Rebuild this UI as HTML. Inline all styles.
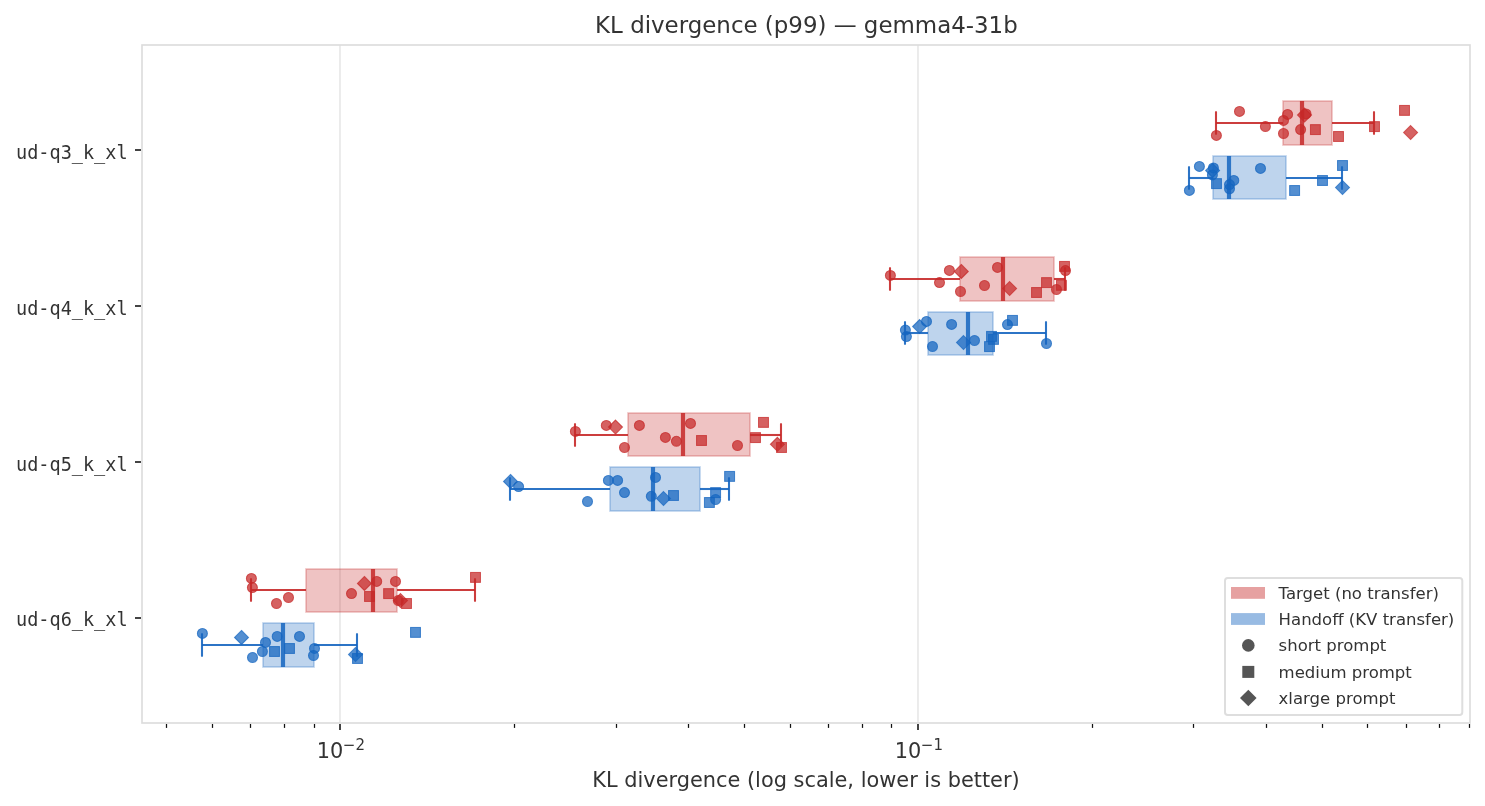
<!DOCTYPE html>
<html lang="en"><head><meta charset="utf-8"><title>KL divergence (p99) — gemma4-31b</title>
<style>html,body{margin:0;padding:0;background:#fff;}body{width:1485px;height:806px;overflow:hidden;}svg{display:block;}text{font-family:"DejaVu Sans","Liberation Sans",sans-serif;fill:#333;}.mono{font-family:"DejaVu Sans Mono","Liberation Mono",monospace;}</style></head><body>
<svg width="1485" height="806" viewBox="0 0 1485 806">
<rect width="1485" height="806" fill="#fff"/>
<g stroke="#e8e8e8" stroke-width="1.67">
<line x1="340" y1="45.0" x2="340" y2="723.0"/>
<line x1="918" y1="45.0" x2="918" y2="723.0"/>
</g>
<g id="pts-q3">
<rect x="1283" y="101" width="49" height="44" fill="#c62828" fill-opacity="0.28" stroke="#c62828" stroke-opacity="0.28" stroke-width="1.67"/>
<g fill="#c62828" fill-opacity="0.73" stroke="#c62828" stroke-opacity="0.73" stroke-width="1.04" stroke-linejoin="miter">
<circle cx="1239.5" cy="111.4" r="5.0"/>
<circle cx="1216.4" cy="135.4" r="5.0"/>
<circle cx="1265.4" cy="126.5" r="5.0"/>
<circle cx="1287.6" cy="114.4" r="5.0"/>
<circle cx="1283.5" cy="120.4" r="5.0"/>
<circle cx="1283.5" cy="133.5" r="5.0"/>
<circle cx="1300.6" cy="129.6" r="5.0"/>
<circle cx="1306.0" cy="113.9" r="5.0"/>
<rect x="1310.45" y="124.65" width="9.9" height="9.9"/>
<rect x="1333.55" y="131.55" width="9.9" height="9.9"/>
<rect x="1369.55" y="121.65" width="9.9" height="9.9"/>
<rect x="1399.55" y="105.45" width="9.9" height="9.9"/>
<path d="M1304.5 108.10L1311.50 115.1L1304.5 122.10L1297.50 115.1Z"/>
<path d="M1410.6 125.50L1417.60 132.5L1410.6 139.50L1403.60 132.5Z"/>
</g>
<rect x="1213" y="156" width="73" height="43" fill="#1565c0" fill-opacity="0.28" stroke="#1565c0" stroke-opacity="0.28" stroke-width="1.67"/>
<g fill="#1565c0" fill-opacity="0.73" stroke="#1565c0" stroke-opacity="0.73" stroke-width="1.04" stroke-linejoin="miter">
<circle cx="1199.4" cy="166.4" r="5.0"/>
<circle cx="1189.4" cy="190.4" r="5.0"/>
<circle cx="1260.5" cy="168.4" r="5.0"/>
<circle cx="1213.4" cy="167.9" r="5.0"/>
<circle cx="1212.4" cy="174.9" r="5.0"/>
<circle cx="1233.8" cy="180.4" r="5.0"/>
<circle cx="1229.5" cy="184.6" r="5.0"/>
<circle cx="1229.5" cy="188.8" r="5.0"/>
<rect x="1211.55" y="178.65" width="9.9" height="9.9"/>
<rect x="1289.65" y="185.55" width="9.9" height="9.9"/>
<rect x="1317.55" y="175.55" width="9.9" height="9.9"/>
<rect x="1337.55" y="160.55" width="9.9" height="9.9"/>
<path d="M1212.6 163.40L1219.60 170.4L1212.6 177.40L1205.60 170.4Z"/>
<path d="M1342.5 180.50L1349.50 187.5L1342.5 194.50L1335.50 187.5Z"/>
</g>
</g>
<g id="pts-q4">
<rect x="960" y="257" width="94" height="44" fill="#c62828" fill-opacity="0.28" stroke="#c62828" stroke-opacity="0.28" stroke-width="1.67"/>
<g fill="#c62828" fill-opacity="0.73" stroke="#c62828" stroke-opacity="0.73" stroke-width="1.04" stroke-linejoin="miter">
<circle cx="890.4" cy="275.4" r="5.0"/>
<circle cx="949.4" cy="270.4" r="5.0"/>
<circle cx="939.5" cy="282.6" r="5.0"/>
<circle cx="960.5" cy="291.5" r="5.0"/>
<circle cx="984.5" cy="285.5" r="5.0"/>
<circle cx="997.5" cy="267.4" r="5.0"/>
<circle cx="1065.5" cy="270.6" r="5.0"/>
<circle cx="1056.5" cy="289.5" r="5.0"/>
<rect x="1031.55" y="287.55" width="9.9" height="9.9"/>
<rect x="1041.55" y="277.65" width="9.9" height="9.9"/>
<rect x="1056.45" y="280.35" width="9.9" height="9.9"/>
<rect x="1059.55" y="261.45" width="9.9" height="9.9"/>
<path d="M961.3 264.40L968.30 271.4L961.3 278.40L954.30 271.4Z"/>
<path d="M1009.6 281.50L1016.60 288.5L1009.6 295.50L1002.60 288.5Z"/>
</g>
<rect x="928" y="312" width="65" height="43" fill="#1565c0" fill-opacity="0.28" stroke="#1565c0" stroke-opacity="0.28" stroke-width="1.67"/>
<g fill="#1565c0" fill-opacity="0.73" stroke="#1565c0" stroke-opacity="0.73" stroke-width="1.04" stroke-linejoin="miter">
<circle cx="905.4" cy="330.1" r="5.0"/>
<circle cx="906.4" cy="336.6" r="5.0"/>
<circle cx="926.5" cy="321.4" r="5.0"/>
<circle cx="951.6" cy="324.4" r="5.0"/>
<circle cx="932.5" cy="346.5" r="5.0"/>
<circle cx="974.5" cy="340.5" r="5.0"/>
<circle cx="1007.5" cy="324.6" r="5.0"/>
<circle cx="1046.5" cy="343.5" r="5.0"/>
<rect x="986.55" y="331.45" width="9.9" height="9.9"/>
<rect x="988.55" y="334.45" width="9.9" height="9.9"/>
<rect x="984.55" y="341.65" width="9.9" height="9.9"/>
<rect x="1007.55" y="315.45" width="9.9" height="9.9"/>
<path d="M919.6 319.60L926.60 326.6L919.6 333.60L912.60 326.6Z"/>
<path d="M963.5 335.50L970.50 342.5L963.5 349.50L956.50 342.5Z"/>
</g>
</g>
<g id="pts-q5">
<rect x="628" y="413" width="122" height="43" fill="#c62828" fill-opacity="0.28" stroke="#c62828" stroke-opacity="0.28" stroke-width="1.67"/>
<g fill="#c62828" fill-opacity="0.73" stroke="#c62828" stroke-opacity="0.73" stroke-width="1.04" stroke-linejoin="miter">
<circle cx="575.4" cy="431.4" r="5.0"/>
<circle cx="606.3" cy="425.4" r="5.0"/>
<circle cx="639.4" cy="425.4" r="5.0"/>
<circle cx="624.5" cy="447.5" r="5.0"/>
<circle cx="665.4" cy="437.4" r="5.0"/>
<circle cx="676.4" cy="441.3" r="5.0"/>
<circle cx="690.5" cy="423.4" r="5.0"/>
<circle cx="737.5" cy="445.5" r="5.0"/>
<rect x="696.55" y="435.55" width="9.9" height="9.9"/>
<rect x="750.55" y="432.65" width="9.9" height="9.9"/>
<rect x="758.55" y="417.45" width="9.9" height="9.9"/>
<rect x="776.55" y="442.55" width="9.9" height="9.9"/>
<path d="M615.5 420.10L622.50 427.1L615.5 434.10L608.50 427.1Z"/>
<path d="M777.4 437.30L784.40 444.3L777.4 451.30L770.40 444.3Z"/>
</g>
<rect x="610" y="467" width="90" height="44" fill="#1565c0" fill-opacity="0.28" stroke="#1565c0" stroke-opacity="0.28" stroke-width="1.67"/>
<g fill="#1565c0" fill-opacity="0.73" stroke="#1565c0" stroke-opacity="0.73" stroke-width="1.04" stroke-linejoin="miter">
<circle cx="518.6" cy="486.6" r="5.0"/>
<circle cx="608.4" cy="480.4" r="5.0"/>
<circle cx="617.6" cy="480.4" r="5.0"/>
<circle cx="624.5" cy="492.6" r="5.0"/>
<circle cx="587.5" cy="501.5" r="5.0"/>
<circle cx="655.5" cy="477.4" r="5.0"/>
<circle cx="651.3" cy="496.3" r="5.0"/>
<circle cx="715.6" cy="499.5" r="5.0"/>
<rect x="668.55" y="490.55" width="9.9" height="9.9"/>
<rect x="710.65" y="487.65" width="9.9" height="9.9"/>
<rect x="704.45" y="497.55" width="9.9" height="9.9"/>
<rect x="724.65" y="471.45" width="9.9" height="9.9"/>
<path d="M510.5 474.40L517.50 481.4L510.5 488.40L503.50 481.4Z"/>
<path d="M663.5 491.50L670.50 498.5L663.5 505.50L656.50 498.5Z"/>
</g>
</g>
<g id="pts-q6">
<rect x="306" y="569" width="91" height="43" fill="#c62828" fill-opacity="0.28" stroke="#c62828" stroke-opacity="0.28" stroke-width="1.67"/>
<g fill="#c62828" fill-opacity="0.73" stroke="#c62828" stroke-opacity="0.73" stroke-width="1.04" stroke-linejoin="miter">
<circle cx="251.4" cy="578.4" r="5.0"/>
<circle cx="252.4" cy="587.6" r="5.0"/>
<circle cx="276.5" cy="603.5" r="5.0"/>
<circle cx="288.5" cy="597.5" r="5.0"/>
<circle cx="351.5" cy="593.6" r="5.0"/>
<circle cx="376.7" cy="581.4" r="5.0"/>
<circle cx="395.5" cy="581.4" r="5.0"/>
<circle cx="398.3" cy="600.5" r="5.0"/>
<rect x="364.55" y="591.55" width="9.9" height="9.9"/>
<rect x="383.65" y="588.65" width="9.9" height="9.9"/>
<rect x="401.55" y="598.55" width="9.9" height="9.9"/>
<rect x="470.55" y="572.45" width="9.9" height="9.9"/>
<path d="M364.4 576.40L371.40 583.4L364.4 590.40L357.40 583.4Z"/>
<path d="M400.5 593.50L407.50 600.5L400.5 607.50L393.50 600.5Z"/>
</g>
<rect x="263" y="623" width="51" height="44" fill="#1565c0" fill-opacity="0.28" stroke="#1565c0" stroke-opacity="0.28" stroke-width="1.67"/>
<g fill="#1565c0" fill-opacity="0.73" stroke="#1565c0" stroke-opacity="0.73" stroke-width="1.04" stroke-linejoin="miter">
<circle cx="202.4" cy="633.4" r="5.0"/>
<circle cx="265.5" cy="642.4" r="5.0"/>
<circle cx="262.4" cy="651.5" r="5.0"/>
<circle cx="252.5" cy="657.5" r="5.0"/>
<circle cx="277.2" cy="636.4" r="5.0"/>
<circle cx="299.5" cy="636.4" r="5.0"/>
<circle cx="314.5" cy="648.4" r="5.0"/>
<circle cx="313.5" cy="655.5" r="5.0"/>
<rect x="269.55" y="646.55" width="9.9" height="9.9"/>
<rect x="284.55" y="643.55" width="9.9" height="9.9"/>
<rect x="352.55" y="653.55" width="9.9" height="9.9"/>
<rect x="410.55" y="627.45" width="9.9" height="9.9"/>
<path d="M241.5 630.40L248.50 637.4L241.5 644.40L234.50 637.4Z"/>
<path d="M355.5 647.50L362.50 654.5L355.5 661.50L348.50 654.5Z"/>
</g>
</g>
<g id="lines-q3">
<g stroke="#c62828" stroke-opacity="0.9" stroke-width="2.08" fill="none">
<line x1="1216" y1="123" x2="1283" y2="123"/>
<line x1="1332" y1="123" x2="1374" y2="123"/>
<line x1="1216" y1="111.3" x2="1216" y2="134.7"/>
<line x1="1374" y1="111.3" x2="1374" y2="134.7"/>
</g>
<line x1="1302" y1="101" x2="1302" y2="145" stroke="#c62828" stroke-opacity="0.85" stroke-width="4.17"/>
<g stroke="#1565c0" stroke-opacity="0.9" stroke-width="2.08" fill="none">
<line x1="1189" y1="178" x2="1213" y2="178"/>
<line x1="1286" y1="178" x2="1342" y2="178"/>
<line x1="1189" y1="166.3" x2="1189" y2="189.7"/>
<line x1="1342" y1="166.3" x2="1342" y2="189.7"/>
</g>
<line x1="1229" y1="156" x2="1229" y2="199" stroke="#1565c0" stroke-opacity="0.85" stroke-width="4.17"/>
</g>
<g id="lines-q4">
<g stroke="#c62828" stroke-opacity="0.9" stroke-width="2.08" fill="none">
<line x1="890" y1="279" x2="960" y2="279"/>
<line x1="1054" y1="279" x2="1065" y2="279"/>
<line x1="890" y1="267.3" x2="890" y2="290.7"/>
<line x1="1065" y1="267.3" x2="1065" y2="290.7"/>
</g>
<line x1="1003" y1="257" x2="1003" y2="301" stroke="#c62828" stroke-opacity="0.85" stroke-width="4.17"/>
<g stroke="#1565c0" stroke-opacity="0.9" stroke-width="2.08" fill="none">
<line x1="905" y1="333" x2="928" y2="333"/>
<line x1="993" y1="333" x2="1046" y2="333"/>
<line x1="905" y1="321.3" x2="905" y2="344.7"/>
<line x1="1046" y1="321.3" x2="1046" y2="344.7"/>
</g>
<line x1="968" y1="312" x2="968" y2="355" stroke="#1565c0" stroke-opacity="0.85" stroke-width="4.17"/>
</g>
<g id="lines-q5">
<g stroke="#c62828" stroke-opacity="0.9" stroke-width="2.08" fill="none">
<line x1="575" y1="435" x2="628" y2="435"/>
<line x1="750" y1="435" x2="781" y2="435"/>
<line x1="575" y1="423.3" x2="575" y2="446.7"/>
<line x1="781" y1="423.3" x2="781" y2="446.7"/>
</g>
<line x1="683" y1="413" x2="683" y2="456" stroke="#c62828" stroke-opacity="0.85" stroke-width="4.17"/>
<g stroke="#1565c0" stroke-opacity="0.9" stroke-width="2.08" fill="none">
<line x1="510" y1="489" x2="610" y2="489"/>
<line x1="700" y1="489" x2="729" y2="489"/>
<line x1="510" y1="477.3" x2="510" y2="500.7"/>
<line x1="729" y1="477.3" x2="729" y2="500.7"/>
</g>
<line x1="653" y1="467" x2="653" y2="511" stroke="#1565c0" stroke-opacity="0.85" stroke-width="4.17"/>
</g>
<g id="lines-q6">
<g stroke="#c62828" stroke-opacity="0.9" stroke-width="2.08" fill="none">
<line x1="251" y1="590" x2="306" y2="590"/>
<line x1="397" y1="590" x2="475" y2="590"/>
<line x1="251" y1="578.3" x2="251" y2="601.7"/>
<line x1="475" y1="578.3" x2="475" y2="601.7"/>
</g>
<line x1="373" y1="569" x2="373" y2="612" stroke="#c62828" stroke-opacity="0.85" stroke-width="4.17"/>
<g stroke="#1565c0" stroke-opacity="0.9" stroke-width="2.08" fill="none">
<line x1="202" y1="645" x2="263" y2="645"/>
<line x1="314" y1="645" x2="357" y2="645"/>
<line x1="202" y1="633.3" x2="202" y2="656.7"/>
<line x1="357" y1="633.3" x2="357" y2="656.7"/>
</g>
<line x1="283" y1="623" x2="283" y2="667" stroke="#1565c0" stroke-opacity="0.85" stroke-width="4.17"/>
</g>
<rect x="142.0" y="45.0" width="1328.0" height="678.0" fill="none" stroke="#dddddd" stroke-width="1.67"/>
<g stroke="#444" stroke-width="2">
<line x1="340" y1="724.0" x2="340" y2="730.0"/>
<line x1="918" y1="724.0" x2="918" y2="730.0"/>
<line x1="135.0" y1="150" x2="141.0" y2="150"/>
<line x1="135.0" y1="306" x2="141.0" y2="306"/>
<line x1="135.0" y1="462" x2="141.0" y2="462"/>
<line x1="135.0" y1="618" x2="141.0" y2="618"/>
</g>
<g stroke="#111" stroke-width="1.25">
<line x1="166.5" y1="724.0" x2="166.5" y2="727.9"/>
<line x1="212.5" y1="724.0" x2="212.5" y2="727.9"/>
<line x1="250.5" y1="724.0" x2="250.5" y2="727.9"/>
<line x1="284.5" y1="724.0" x2="284.5" y2="727.9"/>
<line x1="314.5" y1="724.0" x2="314.5" y2="727.9"/>
<line x1="514.5" y1="724.0" x2="514.5" y2="727.9"/>
<line x1="616.5" y1="724.0" x2="616.5" y2="727.9"/>
<line x1="688.5" y1="724.0" x2="688.5" y2="727.9"/>
<line x1="744.5" y1="724.0" x2="744.5" y2="727.9"/>
<line x1="790.5" y1="724.0" x2="790.5" y2="727.9"/>
<line x1="828.5" y1="724.0" x2="828.5" y2="727.9"/>
<line x1="862.5" y1="724.0" x2="862.5" y2="727.9"/>
<line x1="891.5" y1="724.0" x2="891.5" y2="727.9"/>
<line x1="1092.5" y1="724.0" x2="1092.5" y2="727.9"/>
<line x1="1193.5" y1="724.0" x2="1193.5" y2="727.9"/>
<line x1="1266.5" y1="724.0" x2="1266.5" y2="727.9"/>
<line x1="1322.5" y1="724.0" x2="1322.5" y2="727.9"/>
<line x1="1367.5" y1="724.0" x2="1367.5" y2="727.9"/>
<line x1="1406.5" y1="724.0" x2="1406.5" y2="727.9"/>
<line x1="1439.5" y1="724.0" x2="1439.5" y2="727.9"/>
<line x1="1469.5" y1="724.0" x2="1469.5" y2="727.9"/>
</g>
<text x="316.7" y="758" font-size="20.83">10<tspan dx="-0.4" dy="-8.2" font-size="15">−2</tspan></text>
<text x="894.7" y="758" font-size="20.83">10<tspan dx="-0.4" dy="-8.2" font-size="15">−1</tspan></text>
<text class="mono" x="127.6" y="158.5" font-size="18.55" text-anchor="end">ud-q3_k_xl</text>
<text class="mono" x="127.6" y="314.6" font-size="18.55" text-anchor="end">ud-q4_k_xl</text>
<text class="mono" x="127.6" y="470.6" font-size="18.55" text-anchor="end">ud-q5_k_xl</text>
<text class="mono" x="127.6" y="625.7" font-size="18.55" text-anchor="end">ud-q6_k_xl</text>
<text x="806.4" y="33.4" font-size="22.92" text-anchor="middle">KL divergence (p99) — gemma4-31b</text>
<text x="806" y="787.1" font-size="20.88" text-anchor="middle">KL divergence (log scale, lower is better)</text>
<rect x="1225" y="578" width="237.3" height="137.1" rx="2.8" ry="2.8" fill="#fff" fill-opacity="0.8" stroke="#dedede" stroke-width="2"/>
<rect x="1231" y="587" width="34" height="11.8" fill="#c62828" fill-opacity="0.44"/>
<rect x="1231" y="613.1" width="34" height="11.8" fill="#1565c0" fill-opacity="0.44"/>
<g fill="#555">
<circle cx="1248.3" cy="645.4" r="6.3"/>
<rect x="1242.30" y="665.90" width="12.0" height="12.0"/>
<path d="M1248.3 689.73L1256.57 698.0L1248.3 706.27L1240.03 698.0Z"/>
</g>
<text x="1278.6" y="598.9" font-size="16.52">Target (no transfer)</text>
<text x="1278.6" y="624.9" font-size="16.52">Handoff (KV transfer)</text>
<text x="1278.6" y="651.3" font-size="16.52">short prompt</text>
<text x="1278.6" y="677.5" font-size="16.52">medium prompt</text>
<text x="1278.6" y="703.7" font-size="16.52">xlarge prompt</text>
</svg></body></html>
